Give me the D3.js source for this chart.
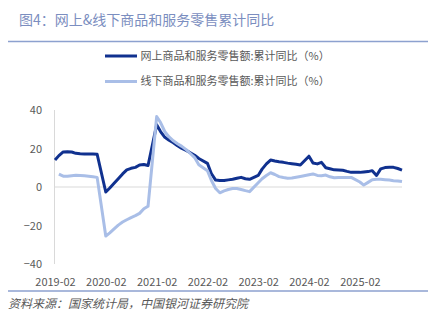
<!DOCTYPE html>
<html>
<head>
<meta charset="utf-8">
<script src="https://cdn.jsdelivr.net/npm/d3@7"></script>
<style>
  html, body { margin: 0; padding: 0; background: #ffffff; }
  svg { display: block; }
  text { font-family: "Noto Sans CJK SC", "Noto Sans", sans-serif; }
</style>
</head>
<body>
<svg id="chart" width="431" height="331"></svg>
<script>
// Reporting periods: cumulative figures, Jan–Feb reported together, so each year runs Feb..Dec
const years = [2019, 2020, 2021, 2022, 2023, 2024, 2025];
const months = ["02", "03", "04", "05", "06", "07", "08", "09", "10", "11", "12"];
const periods = years.flatMap(y => months.map(m => `${y}-${m}`));

const tickLabels = ["2019-02", "2020-02", "2021-02", "2022-02", "2023-02", "2024-02", "2025-02"];
const yTicks = [40, 20, 0, -20, -40];

const titleText = "图4：网上&线下商品和服务零售累计同比";
const sourceText = "资料来源：国家统计局，中国银河证券研究院";
const seriesNames = ["网上商品和服务零售额:累计同比（%）", "线下商品和服务零售额:累计同比（%）"];

// Online retail sales of goods and services, cumulative YoY (%)
const onlineYoY = [
  14.0, 16.3, 18.2, 18.3, 18.2, 17.5, 17.3, 17.2, 17.1, 17.1, 17.0,
  -2.6, -0.5, 1.9, 4.3, 6.8, 8.9, 9.7, 10.2, 11.4, 11.7, 11.2,
  32.3, 28.8, 25.8, 24.3, 23.0, 21.4, 20.0, 19.0, 17.8, 16.5, 14.8,
  12.3, 7.0, 3.6, 3.4, 3.4, 3.7, 4.0, 4.5, 5.0, 4.3, 4.0,
  6.0, 9.3, 12.0, 14.0, 13.5, 13.1, 12.8, 12.4, 12.1, 11.8, 11.4,
  16.0, 12.5, 12.0, 12.8, 10.0, 9.5, 8.9, 8.8, 8.7, 8.1, 7.6,
  7.6, 7.8, 8.0, 8.5, 6.0, 9.4, 10.1, 10.3, 10.2, 9.6, 8.8
];

// Offline retail sales of goods and services, cumulative YoY (%)
const offlineYoY = [
  null, 6.7, 5.6, 5.6, 5.9, 6.1, 6.0, 5.8, 5.6, 5.3, 5.0,
  -25.5, -23.8, -21.8, -19.8, -18.2, -17.0, -15.9, -14.9, -13.7, -11.3, -10.0,
  36.6, 33.5, 28.7, 26.0, 24.0, 22.5, 21.1, 19.4, 17.4, 15.3, 11.5,
  8.5, 3.5, -0.8, -3.0, -2.0, -1.3, -0.8, -0.8, -1.3, -1.9, -2.4,
  2.2, 4.3, 6.0, 7.4, 6.5, 5.4, 4.9, 4.6, 4.7, 5.1, 5.5,
  6.4, 6.8, 6.0, 5.9, 6.2, 5.3, 4.8, 4.9, 5.0, 5.0, 5.0,
  2.6, 1.0, 2.4, 3.8, 4.0, 4.0, 3.8, 3.6, 3.3, 3.1, 2.8
];

const seriesColors = ["#10318f", "#a9bee7"];
const textColor = "#595959";
const ruleColor = "#8da1cf";
const axisColor = "#d9d9d9";

const parseMonth = d3.timeParse("%Y-%m");
const dates = periods.map(parseMonth);

const plot = { left: 55, right: 402, top: 110, bottom: 264 };

const x = d3.scaleTime()
  .domain([dates[0], dates[dates.length - 1]])
  .range([plot.left, plot.right]);

const y = d3.scaleLinear()
  .domain([-40, 40])
  .range([plot.bottom, plot.top]);

const svg = d3.select("#chart");

// Title and rule beneath it
svg.append("text")
  .attr("x", 19).attr("y", 25)
  .attr("font-size", 14)
  .attr("fill", "#7b8ec0")
  .text(titleText);

svg.append("line")
  .attr("x1", 8).attr("x2", 428)
  .attr("y1", 41.5).attr("y2", 41.5)
  .attr("stroke", ruleColor).attr("stroke-width", 1.5);

// Legend
const legend = svg.append("g");
seriesNames.forEach((name, i) => {
  const ly = 56 + i * 25.5;
  legend.append("line")
    .attr("x1", 105).attr("x2", 137)
    .attr("y1", ly).attr("y2", ly)
    .attr("stroke", seriesColors[i]).attr("stroke-width", 3);
  legend.append("text")
    .attr("x", 140.5).attr("y", ly)
    .attr("dy", "0.35em")
    .attr("font-size", 11)
    .attr("fill", textColor)
    .text(name);
});

// Y axis labels
const yAxis = d3.axisLeft(y).tickValues(yTicks).tickSize(0).tickPadding(13);
const gy = svg.append("g")
  .attr("transform", `translate(${plot.left},0)`)
  .call(yAxis);
gy.select(".domain").remove();
gy.selectAll("text")
  .attr("font-size", 11)
  .attr("fill", textColor)
  .style("font-family", "\"Noto Sans CJK SC\", sans-serif");

// Vertical axis line
svg.append("line")
  .attr("x1", plot.left - 0.5).attr("x2", plot.left - 0.5)
  .attr("y1", y(40)).attr("y2", y(-40))
  .attr("stroke", axisColor).attr("stroke-width", 1);

// Zero line
svg.append("line")
  .attr("x1", plot.left - 0.5).attr("x2", plot.right)
  .attr("y1", y(0)).attr("y2", y(0))
  .attr("stroke", axisColor).attr("stroke-width", 1.2);

// X axis labels
const xAxis = d3.axisBottom(x)
  .tickValues(tickLabels.map(parseMonth))
  .tickFormat(d3.timeFormat("%Y-%m"))
  .tickSize(0)
  .tickPadding(10);
const gx = svg.append("g")
  .attr("transform", `translate(0,${plot.bottom + 4})`)
  .call(xAxis);
gx.select(".domain").remove();
gx.selectAll("text")
  .attr("font-size", 11)
  .attr("fill", textColor)
  .style("font-family", "\"Noto Sans CJK SC\", sans-serif");

// Series lines
const line = d3.line()
  .defined(d => d.v !== null)
  .x(d => x(d.date))
  .y(d => y(d.v));

[onlineYoY, offlineYoY].forEach((values, i) => {
  const pts = values.map((v, k) => ({ date: dates[k], v }));
  svg.append("path")
    .datum(pts)
    .attr("d", line)
    .attr("fill", "none")
    .attr("stroke", seriesColors[i])
    .attr("stroke-width", 3)
    .attr("stroke-linejoin", "round")
    .attr("stroke-linecap", "butt");
});

// Bottom rule and source note
svg.append("line")
  .attr("x1", 8).attr("x2", 428)
  .attr("y1", 291).attr("y2", 291)
  .attr("stroke", ruleColor).attr("stroke-width", 1.5);

svg.append("text")
  .attr("x", 8).attr("y", 307.5)
  .attr("font-size", 12)
  .attr("font-style", "italic")
  .attr("fill", textColor)
  .text(sourceText);
</script>
</body>
</html>
